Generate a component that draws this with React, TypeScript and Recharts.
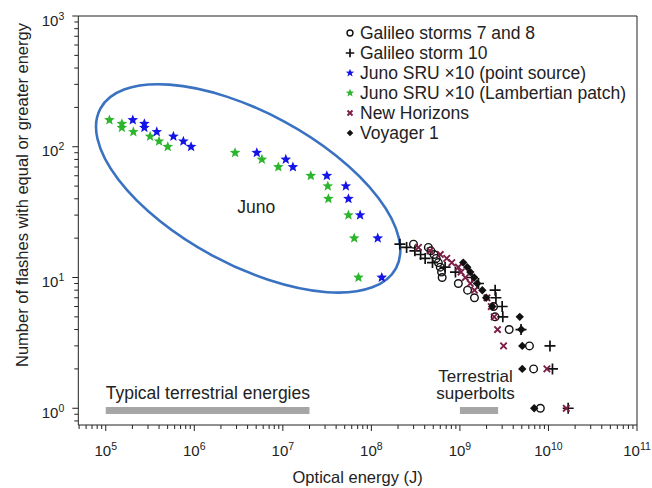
import { ScatterChart, Scatter, XAxis, YAxis, ReferenceLine, Legend } from "recharts";

const FONT = '"Liberation Sans", Arial, Helvetica, sans-serif';
const INK = "#222";

// axis ranges (log10 space)
const X_MIN = 10 ** 4.69;
const X_MAX = 1e11;
const Y_MIN = 10 ** -0.128;
const Y_MAX = 1000;

// Juno SRU x10 (point source)
const junoPointEnergy = [2.02e5, 2.73e5, 2.73e5, 3.77e5, 5.81e5, 7.53e5, 9.2e5, 5.08e6, 1.08e7, 1.3e7, 3.14e7, 5.15e7, 5.51e7, 7.46e7, 1.18e8, 1.31e8];
const junoPointCount = [160, 150, 140, 130, 120, 110, 100, 90, 80, 70, 60, 50, 40, 30, 20, 10];

// Juno SRU x10 (Lambertian patch)
const junoLambEnergy = [1.1e5, 1.52e5, 1.52e5, 2.05e5, 3.17e5, 4.0e5, 5.02e5, 2.89e6, 5.8e6, 8.9e6, 2.07e7, 3.22e7, 3.27e7, 5.51e7, 6.4e7, 7.15e7];
const junoLambCount = [160, 150, 140, 130, 120, 110, 100, 90, 80, 70, 60, 50, 40, 30, 20, 10];

// Galileo storms 7 and 8
const galileo78Energy = [2.99e8, 4.4e8, 4.7e8, 5.1e8, 5.4e8, 5.7e8, 6.0e8, 6.2e8, 6.3e8, 9.6e8, 1.22e9, 1.46e9, 2.4e9, 2.5e9, 3.6e9, 6.1e9, 6.8e9, 8.1e9];
const galileo78Count = [18, 17, 16, 15, 14, 13, 12, 11, 10, 9, 8, 7, 6, 5, 4, 3, 2, 1];

// Galileo storm 10
const galileo10Energy = [2.1e8, 2.5e8, 3.1e8, 3.6e8, 4.05e8, 4.9e8, 6.8e8, 8.9e8, 1.37e9, 1.62e9, 2.5e9, 2.55e9, 3.0e9, 3.05e9, 4.9e9, 1.04e10, 1.11e10, 1.67e10];
const galileo10Count = [18, 17, 16, 15, 14, 13, 12, 11, 10, 9, 8, 7, 6, 5, 4, 3, 2, 1];

// New Horizons
const newHorizonsEnergy = [3.4e8, 4.6e8, 6.0e8, 7.1e8, 8.1e8, 9.6e8, 1.03e9, 1.15e9, 1.31e9, 1.46e9, 2.02e9, 2.26e9, 2.44e9, 2.66e9, 3.11e9, 9.6e9, 1.59e10];
const newHorizonsCount = [17, 16, 15, 14, 13, 12, 11, 10, 9, 8, 7, 6, 5, 4, 3, 2, 1];

// Voyager 1
const voyagerEnergy = [1.09e9, 1.21e9, 1.31e9, 1.45e9, 1.57e9, 1.79e9, 1.98e9, 2.32e9, 4.74e9, 4.93e9, 5.06e9, 5.06e9, 6.9e9];
const voyagerCount = [13, 12, 11, 10, 9, 8, 7, 6, 5, 4, 3, 2, 1];

// annotations
const junoEllipseCenter = { x: 4.06e6, y: 48 };
const terrestrialRange = [1e5, 2e7];
const superboltRange = [1e9, 2.7e9];
const barLevel = 0.96;

const zip = (xs: number[], ys: number[]) => xs.map((x, i) => ({ x, y: ys[i] }));

const SERIES = [
  { name: "Galileo storms 7 and 8", kind: "circle", color: "#111", data: zip(galileo78Energy, galileo78Count) },
  { name: "Galileo storm 10", kind: "plus", color: "#111", data: zip(galileo10Energy, galileo10Count) },
  { name: "Juno SRU \u00d710 (point source)", kind: "star", color: "#1414e6", data: zip(junoPointEnergy, junoPointCount) },
  { name: "Juno SRU \u00d710 (Lambertian patch)", kind: "star", color: "#2db52d", data: zip(junoLambEnergy, junoLambCount) },
  { name: "New Horizons", kind: "cross", color: "#7a1e45", data: zip(newHorizonsEnergy, newHorizonsCount) },
  { name: "Voyager 1", kind: "diamond", color: "#111", data: zip(voyagerEnergy, voyagerCount) },
];

// draw order (Juno under the rest)
const DRAW_ORDER = [3, 2, 0, 1, 4, 5];

function starPath(cx: number, cy: number, R: number, r: number) {
  let d = "";
  for (let i = 0; i < 10; i++) {
    const a = ((-90 + 36 * i) * Math.PI) / 180;
    const rad = i % 2 === 0 ? R : r;
    d += (i === 0 ? "M" : "L") + (cx + rad * Math.cos(a)).toFixed(2) + "," + (cy + rad * Math.sin(a)).toFixed(2);
  }
  return d + "Z";
}

function Marker({ kind, cx, cy, color, s = 1 }: any) {
  if (cx == null || cy == null) return null;
  switch (kind) {
    case "circle":
      return <circle cx={cx} cy={cy} r={3.8 * s} fill="none" stroke={color} strokeWidth={1.4} />;
    case "plus":
      return (
        <path
          d={`M${cx - 5.5 * s},${cy}H${cx + 5.5 * s}M${cx},${cy - 5.5 * s}V${cy + 5.5 * s}`}
          stroke={color}
          strokeWidth={1.7}
          fill="none"
        />
      );
    case "star":
      return <path d={starPath(cx, cy, 5.6 * s, 2.4 * s)} fill={color} stroke="none" />;
    case "cross":
      return (
        <path
          d={`M${cx - 3.2 * s},${cy - 3.2 * s}L${cx + 3.2 * s},${cy + 3.2 * s}M${cx - 3.2 * s},${cy + 3.2 * s}L${cx + 3.2 * s},${cy - 3.2 * s}`}
          stroke={color}
          strokeWidth={1.9}
          fill="none"
        />
      );
    case "diamond":
      return (
        <path
          d={`M${cx},${cy - 4.2 * s}L${cx + 4.2 * s},${cy}L${cx},${cy + 4.2 * s}L${cx - 4.2 * s},${cy}Z`}
          fill={color}
        />
      );
    default:
      return null;
  }
}

function isDecade(v: number) {
  const e = Math.log10(v);
  return Math.abs(e - Math.round(e)) < 1e-6;
}

function logTicks(min: number, max: number) {
  const out: number[] = [];
  for (let e = Math.floor(Math.log10(min)); e <= Math.ceil(Math.log10(max)); e++) {
    for (let m = 1; m < 10; m++) {
      const v = m * 10 ** e;
      if (v >= min * 0.999 && v <= max * 1.001) out.push(v);
    }
  }
  return out;
}

const xTicks = logTicks(X_MIN, X_MAX);
const yTicks = logTicks(Y_MIN, Y_MAX);

const XTick = (props: any) => {
  const { x, y, payload } = props;
  const major = isDecade(payload.value);
  return (
    <g>
      <line x1={x} x2={x} y1={y} y2={y + (major ? 6 : 4)} stroke={INK} strokeWidth={1} />
      {major && (
        <text x={x} y={y + 31} textAnchor="middle" fontSize={15} fill={INK} fontFamily={FONT}>
          10
          <tspan dy={-6} fontSize={10.5}>
            {Math.round(Math.log10(payload.value))}
          </tspan>
        </text>
      )}
    </g>
  );
};

const YTick = (props: any) => {
  const { x, y, payload } = props;
  const major = isDecade(payload.value);
  return (
    <g>
      <line x1={x - (major ? 6 : 4)} x2={x} y1={y} y2={y} stroke={INK} strokeWidth={1} />
      {major && (
        <text x={x - 14} y={y + 9.5} textAnchor="end" fontSize={15} fill={INK} fontFamily={FONT}>
          10
          <tspan dy={-6} fontSize={10.5}>
            {Math.round(Math.log10(payload.value))}
          </tspan>
        </text>
      )}
    </g>
  );
};

const XTitle = (props: any) => {
  const vb = props.viewBox || { x: 70, y: 417, width: 559, height: 63 };
  return (
    <text x={vb.x + vb.width / 2} y={vb.y + 58} textAnchor="middle" fontSize={16.5} fill={INK} fontFamily={FONT}>
      Optical energy (J)
    </text>
  );
};

const YTitle = () => (
  <text
    transform="translate(19.5,187) rotate(-90)"
    textAnchor="middle"
    fontSize={16.5}
    fill={INK}
    fontFamily={FONT}
  >
    Number of flashes with equal or greater energy
  </text>
);

const LegendBox = () => (
  <div style={{ fontFamily: FONT, fontSize: 17.5, color: INK }}>
    {SERIES.map((s) => (
      <div key={s.name} style={{ display: "flex", alignItems: "center", height: 20, lineHeight: "20px", whiteSpace: "nowrap" }}>
        <svg width={12} height={12} style={{ marginRight: 4, flex: "none" }}>
          <Marker kind={s.kind} cx={6} cy={6} color={s.color} s={0.78} />
        </svg>
        <span>{s.name}</span>
      </div>
    ))}
  </div>
);

export default function App() {
  // body margin is moved into the wrapper padding so the root box spans the whole window
  return (
    <div style={{ fontFamily: FONT, padding: "8px 0 0 8px", width: 644, height: 480 }}>
      <style>{"body{margin:0}"}</style>
      <ScatterChart width={644} height={480} margin={{ top: 8, right: 15, bottom: 0, left: 0 }}>
        <XAxis
          type="number"
          dataKey="x"
          scale="log"
          domain={[X_MIN, X_MAX]}
          allowDataOverflow
          ticks={xTicks}
          interval={0}
          tickSize={0}
          tickMargin={0}
          tickLine={false}
          tick={<XTick />}
          height={63}
          axisLine={{ stroke: INK }}
          label={<XTitle />}
        />
        <YAxis
          type="number"
          dataKey="y"
          scale="log"
          domain={[Y_MIN, Y_MAX]}
          allowDataOverflow
          ticks={yTicks}
          interval={0}
          tickSize={0}
          tickMargin={0}
          tickLine={false}
          tick={<YTick />}
          width={70.3}
          axisLine={{ stroke: INK }}
          label={<YTitle />}
        />
        <ReferenceLine y={Y_MAX} stroke={INK} strokeWidth={1} />
        <ReferenceLine x={X_MAX} stroke={INK} strokeWidth={1} />
        <ReferenceLine
          segment={[
            { x: terrestrialRange[0], y: barLevel },
            { x: terrestrialRange[1], y: barLevel },
          ]}
          stroke="#a6a6a6"
          strokeWidth={7}
        />
        <ReferenceLine
          segment={[
            { x: superboltRange[0], y: barLevel },
            { x: superboltRange[1], y: barLevel },
          ]}
          stroke="#a6a6a6"
          strokeWidth={7}
        />
        <Scatter
          name="ellipse"
          legendType="none"
          data={[junoEllipseCenter]}
          isAnimationActive={false}
          shape={(p: any) => (
            <ellipse
              cx={p.cx}
              cy={p.cy}
              rx={168}
              ry={76}
              transform={`rotate(28.4 ${p.cx} ${p.cy})`}
              fill="none"
              stroke="#3a72c2"
              strokeWidth={2.6}
            />
          )}
        />
        <Scatter
          name="juno-label"
          legendType="none"
          data={[{ x: 5e6, y: 31 }]}
          isAnimationActive={false}
          shape={(p: any) => (
            <text x={p.cx} y={p.cy} textAnchor="middle" fontSize={17.5} fill={INK} fontFamily={FONT}>
              Juno
            </text>
          )}
        />
        <Scatter
          name="terrestrial-label"
          legendType="none"
          data={[{ x: terrestrialRange[0], y: barLevel }]}
          isAnimationActive={false}
          shape={(p: any) => (
            <text x={p.cx} y={p.cy - 12} textAnchor="start" fontSize={17.5} fill={INK} fontFamily={FONT}>
              Typical terrestrial energies
            </text>
          )}
        />
        <Scatter
          name="superbolt-label"
          legendType="none"
          data={[{ x: 1.5e9, y: barLevel }]}
          isAnimationActive={false}
          shape={(p: any) => (
            <text x={p.cx} y={p.cy} textAnchor="middle" fontSize={17} fill={INK} fontFamily={FONT}>
              <tspan x={p.cx} dy={-29}>Terrestrial</tspan>
              <tspan x={p.cx} dy={17.5}>superbolts</tspan>
            </text>
          )}
        />
        {DRAW_ORDER.map((i) => {
          const s = SERIES[i];
          return (
            <Scatter
              key={s.name}
              name={s.name}
              data={s.data}
              fill={s.color}
              isAnimationActive={false}
              shape={(p: any) => <Marker kind={s.kind} cx={p.cx} cy={p.cy} color={s.color} />}
            />
          );
        })}
        <Legend
          layout="vertical"
          align="center"
          verticalAlign="middle"
          wrapperStyle={{ left: 336, top: 15, width: 300 }}
          content={() => <LegendBox />}
        />
      </ScatterChart>
    </div>
  );
}
